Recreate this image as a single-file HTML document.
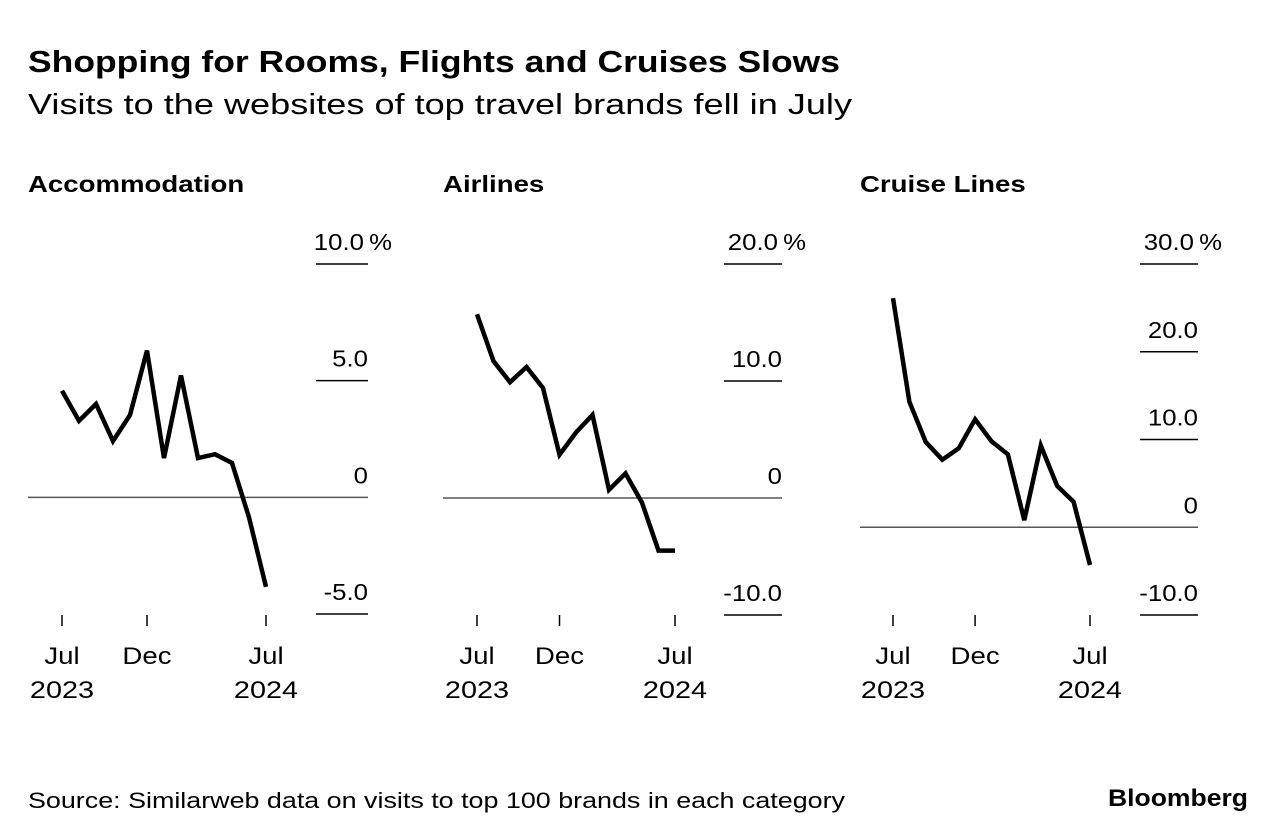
<!DOCTYPE html>
<html><head><meta charset="utf-8">
<style>
body{margin:0;background:#fff;}
svg{display:block;font-family:"Liberation Sans",Arial,sans-serif;}
</style></head>
<body>
<svg id="c" width="1286" height="840" viewBox="0 0 1286 840">
<text x="28" y="72" font-size="31" font-weight="bold" fill="#000" textLength="812" lengthAdjust="spacingAndGlyphs">Shopping for Rooms, Flights and Cruises Slows</text>
<text x="28" y="114" font-size="29" fill="#000" textLength="824" lengthAdjust="spacingAndGlyphs">Visits to the websites of top travel brands fell in July</text>
<text x="28" y="808" font-size="22" fill="#000" textLength="817" lengthAdjust="spacingAndGlyphs">Source: Similarweb data on visits to top 100 brands in each category</text>
<text x="1108" y="806" font-size="24" font-weight="bold" fill="#000" textLength="140" lengthAdjust="spacingAndGlyphs">Bloomberg</text>
</svg>
<script>
const months = ["Jul 2023","Aug","Sep","Oct","Nov","Dec","Jan","Feb","Mar","Apr","May","Jun","Jul 2024"];
const accommodationValues = [4.57,3.28,4.0,2.41,3.53,6.29,1.68,5.22,1.68,1.85,1.47,-0.86,-3.84];
const airlinesValues = [15.7,11.7,9.9,11.2,9.4,3.7,5.6,7.1,0.7,2.1,-0.4,-4.5,-4.5];
const cruiseValues = [26.1,14.3,9.7,7.7,9.0,12.3,9.8,8.3,0.8,9.3,4.7,2.9,-4.3];
const accommodationTicks = [10,5,0,-5];
const airlinesTicks = [20,10,0,-10];
const cruiseTicks = [30,20,10,0,-10];
const accommodationTickLabels = ["10.0%","5.0","0","-5.0"];
const airlinesTickLabels = ["20.0%","10.0","0","-10.0"];
const cruiseTickLabels = ["30.0%","20.0","10.0","0","-10.0"];
const xTickIdx = [0,5,12];
const xTickLine1 = ["Jul","Dec","Jul"];
const xTickLine2 = ["2023","","2024"];

const NS="http://www.w3.org/2000/svg";
const svg=document.getElementById('c');
function mk(tag,attrs,parent){const e=document.createElementNS(NS,tag);for(const k in attrs)e.setAttribute(k,attrs[k]);(parent||svg).appendChild(e);return e;}
function stretch(el,k){const w=el.getComputedTextLength();el.setAttribute('textLength',(w*k).toFixed(1));el.setAttribute('lengthAdjust','spacingAndGlyphs');}

const panels=[
 {title:"Accommodation",slug:"accommodation",vals:accommodationValues,ticks:accommodationTicks,labels:accommodationTickLabels,left:28,x0:62,x1:266,axR:368,axL:316,yMax:10,yMin:-5,yTop:264,yBot:614},
 {title:"Airlines",slug:"airlines",vals:airlinesValues,ticks:airlinesTicks,labels:airlinesTickLabels,left:443,x0:477,x1:675,axR:782,axL:724,yMax:20,yMin:-10,yTop:264,yBot:615},
 {title:"Cruise Lines",slug:"cruise-lines",vals:cruiseValues,ticks:cruiseTicks,labels:cruiseTickLabels,left:860,x0:893,x1:1090,axR:1198,axL:1140,yMax:30,yMin:-10,yTop:264,yBot:615}
];

panels.forEach(p=>{
  const g=mk('g',{});
  
  
  const xs=i=>p.x0+(p.x1-p.x0)*i/(months.length-1);
  const ys=v=>p.yTop+(p.yMax-v)/(p.yMax-p.yMin)*(p.yBot-p.yTop);
  const t=mk('text',{x:p.left,y:192,'font-size':23,'font-weight':'bold'},g);
  t.textContent=p.title;
  
  
  stretch(t,1.2);
  p.ticks.forEach((v,i)=>{
    const y=ys(v);
    if(v===0){
      const z=mk('line',{x1:p.left,x2:p.axR,y1:y,y2:y,stroke:'#555','stroke-width':1.5},g);
      
      
    } else {
      const l=mk('line',{x1:p.axL,x2:p.axR,y1:y,y2:y,stroke:'#000','stroke-width':1.5},g);
      
      
    }
    const pct=p.labels[i].includes('%');
    const tl=mk('text',{x:p.axR+(pct?24:0),y:y-14,'font-size':23,'text-anchor':'end'},g);
    tl.textContent=pct?p.labels[i].replace('%','\u2009%'):p.labels[i];
    
    
    stretch(tl,1.12);
  });
  xTickIdx.forEach((idx,i)=>{
    const x=xs(idx);
    const tk=mk('line',{x1:x,x2:x,y1:615,y2:626,stroke:'#000','stroke-width':1.5},g);
    
    
    const a=mk('text',{x:x,y:664,'font-size':24,'text-anchor':'middle'},g);
    a.textContent=xTickLine1[i];
    
    
    stretch(a,1.15);
    if(xTickLine2[i]){
      const b=mk('text',{x:x,y:698,'font-size':24,'text-anchor':'middle'},g);
      b.textContent=xTickLine2[i];
      
      
      stretch(b,1.2);
    }
  });
  const d=p.vals.map((v,i)=>(i?'L':'M')+xs(i).toFixed(1)+' '+ys(v).toFixed(1)).join(' ');
  const path=mk('path',{d:d,fill:'none',stroke:'#000','stroke-width':4.5,'stroke-linejoin':'miter','stroke-linecap':'butt'},g);
  
  
});
</script>
</body></html>
